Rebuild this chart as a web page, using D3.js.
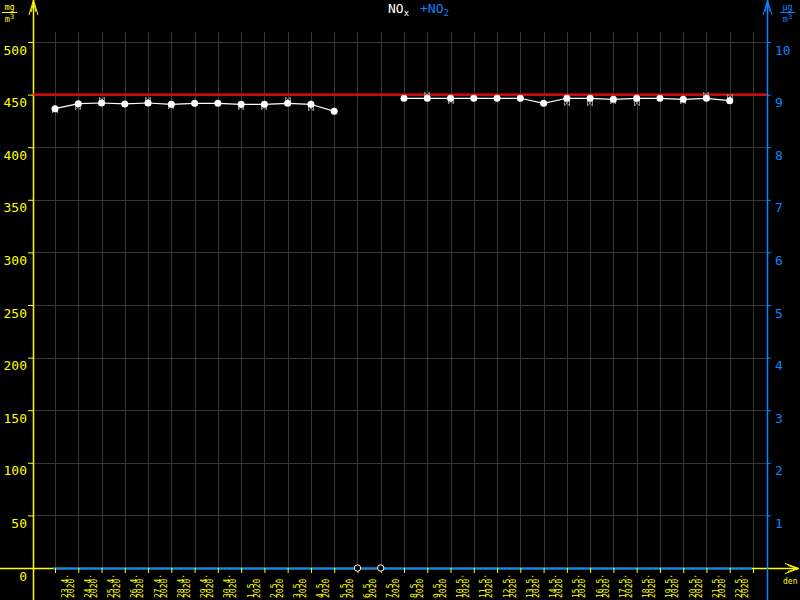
<!DOCTYPE html>
<html>
<head>
<meta charset="utf-8">
<script src="https://cdn.jsdelivr.net/npm/d3@7"></script>
<style>
  html, body { margin: 0; padding: 0; background: #000; }
  svg { display: block; }
  text { font-family: "DejaVu Sans Mono", monospace; }
</style>
</head>
<body>
<svg id="chart" width="800" height="600"></svg>
<script>
// ---- data ----
const dayLabels = ["23.4.","24.4.","25.4.","26.4.","27.4.","28.4.","29.4.","30.4.","1.5.","2.5.",
  "3.5.","4.5.","5.5.","6.5.","7.5.","8.5.","9.5.","10.5.","11.5.","12.5.",
  "13.5.","14.5.","15.5.","16.5.","17.5.","18.5.","19.5.","20.5.","21.5.","22.5."];
const yearLabel = "2020";
const noxValues = [436.6, 441.4, 442, 441.1, 442, 440.8, 441.7, 441.7, 440.8, 440.8,
  441.7, 440.8, 434.1, null, null, 446.5, 446.5, 446.5, 446.5, 446.5,
  446.5, 441.7, 446.5, 446.5, 445.5, 446.5, 446.5, 445.5, 446.5, 444.2];
// secondary grey markers (same left-axis units), null = none
const markerValues = [434.9, 438.2, 444.9, null, 445, 439, null, null, 438.2, 438.2,
  445, 437.3, null, null, null, null, 449.6, 444, null, null,
  null, null, 442.2, 442.2, 444, 442.2, null, 444, 449.6, 447.7];
const missingDays = [13, 14];
const limitValue = 450;
const leftTicks = [0, 50, 100, 150, 200, 250, 300, 350, 400, 450, 500];
const rightTicks = [1, 2, 3, 4, 5, 6, 7, 8, 9, 10];

// ---- layout ----
const YEL = "#ffff00", BLUE = "#0a84ff", GRID = "#363636";
const svg = d3.select("#chart");
svg.append("rect").attr("width", 800).attr("height", 600).attr("fill", "#000");

const y = d3.scaleLinear().domain([0, 500]).range([568, 42]);
const yR = d3.scaleLinear().domain([0, 10]).range([568, 42]);
const x = d3.scaleLinear().domain([0, 30]).range([55, 753]);
const axL = 33, axR = 767, gridTop = 32;

// grid
const grid = svg.append("g").attr("shape-rendering", "crispEdges");
grid.selectAll("line.h").data(leftTicks.filter(d => d > 0)).join("line")
  .attr("x1", axL).attr("x2", axR).attr("y1", d => Math.round(y(d)) + 0.5).attr("y2", d => Math.round(y(d)) + 0.5)
  .attr("stroke", GRID);
grid.selectAll("line.v").data(d3.range(31)).join("line")
  .attr("x1", d => Math.round(x(d)) + 0.5).attr("x2", d => Math.round(x(d)) + 0.5)
  .attr("y1", gridTop).attr("y2", 568).attr("stroke", GRID);

// left axis
const gL = svg.append("g").attr("transform", `translate(${axL},0)`)
  .call(d3.axisLeft(y).tickValues(leftTicks).tickSize(5).tickPadding(1));
gL.select(".domain").remove();
gL.selectAll(".tick line").attr("stroke", YEL);
gL.selectAll(".tick text").attr("fill", YEL).attr("dy", 12).style("font-size", "13px")
  .style("font-family", "DejaVu Sans Mono, monospace");

// right axis
const gR = svg.append("g").attr("transform", `translate(${axR},0)`)
  .call(d3.axisRight(yR).tickValues(rightTicks).tickSize(4).tickPadding(4));
gR.select(".domain").remove();
gR.selectAll(".tick line").attr("stroke", BLUE);
gR.selectAll(".tick text").attr("fill", BLUE).attr("dy", 12).style("font-size", "13px")
  .style("font-family", "DejaVu Sans Mono, monospace");

// x axis lines
svg.append("line").attr("x1", 0).attr("x2", 798).attr("y1", 568.5).attr("y2", 568.5)
  .attr("stroke", YEL).attr("stroke-width", 1.5);
svg.append("line").attr("x1", 53).attr("x2", 752).attr("y1", 568.5).attr("y2", 568.5)
  .attr("stroke", BLUE).attr("stroke-width", 2);
// x arrow
svg.append("path").attr("d", "M785,563.5 L799,568.5 L785,573.5 M788,565.5 L797,568.5 L788,571.5")
  .attr("fill", "none").attr("stroke", YEL);
svg.append("text").attr("x", 783).attr("y", 584).attr("fill", YEL)
  .style("font-size", "8px").text("den");

// bottom axis ticks
const gB = svg.append("g").attr("transform", "translate(0,568)")
  .call(d3.axisBottom(x).tickValues(d3.range(31)).tickSize(5).tickFormat(""));
gB.select(".domain").remove();
gB.selectAll(".tick line").attr("stroke", YEL);

// vertical axes
svg.append("line").attr("x1", axL + 0.5).attr("x2", axL + 0.5).attr("y1", 0).attr("y2", 600)
  .attr("stroke", YEL).attr("stroke-width", 1.5);
svg.append("path").attr("d", `M${axL - 4},15 L${axL + 0.5},0 L${axL + 5},15 M${axL - 2},12 L${axL + 0.5},3 L${axL + 3},12`)
  .attr("fill", "none").attr("stroke", YEL);
svg.append("line").attr("x1", axR + 0.5).attr("x2", axR + 0.5).attr("y1", 0).attr("y2", 600)
  .attr("stroke", BLUE).attr("stroke-width", 1.5);
svg.append("path").attr("d", `M${axR - 4},15 L${axR + 0.5},0 L${axR + 5},15 M${axR - 2},12 L${axR + 0.5},3 L${axR + 3},12`)
  .attr("fill", "none").attr("stroke", BLUE);

// x labels
const lab = svg.append("g").selectAll("g").data(dayLabels).join("g")
  .attr("transform", (d, i) => `translate(${x(i) + 12.5},598) rotate(-90)`);
lab.append("text").attr("x", 0).attr("y", 0).attr("fill", YEL).style("font-size", "8px").text(d => d);
lab.append("text").attr("x", 0).attr("y", 6).attr("fill", YEL).style("font-size", "8px").text(yearLabel);

// limit line
svg.append("line").attr("x1", axL).attr("x2", axR).attr("y1", y(limitValue)).attr("y2", y(limitValue))
  .attr("stroke", "#ff0000").attr("stroke-width", 2);

// grey markers
svg.append("g").selectAll("path").data(markerValues.map((v, i) => ({v, i})).filter(d => d.v != null))
  .join("path")
  .attr("transform", d => `translate(${Math.round(x(d.i))},${Math.round(y(d.v))})`)
  .attr("d", "M-2.5,-3 L2.5,3 M2.5,-3 L-2.5,3 M-2.5,-3 L-2.5,3 M2.5,-3 L2.5,3")
  .attr("stroke", "#8a8a8a").attr("fill", "none").attr("stroke-width", 1);

// NOx line
const line = d3.line().defined(d => d != null).x((d, i) => x(i)).y(d => y(d));
svg.append("path").datum(noxValues).attr("d", line)
  .attr("fill", "none").attr("stroke", "#fff").attr("stroke-width", 1.2);
svg.append("g").selectAll("circle").data(noxValues.map((v, i) => ({v, i})).filter(d => d.v != null))
  .join("circle").attr("cx", d => x(d.i)).attr("cy", d => y(d.v)).attr("r", 3.5).attr("fill", "#fff");

// missing markers
svg.append("g").selectAll("circle").data(missingDays).join("circle")
  .attr("cx", d => x(d)).attr("cy", y(0)).attr("r", 3.2)
  .attr("fill", "#000").attr("stroke", "#fff").attr("stroke-width", 1);

// title
const t1 = svg.append("text").attr("x", 388).attr("y", 13).attr("fill", "#fff").style("font-size", "13px");
t1.append("tspan").text("NO");
t1.append("tspan").attr("dy", 3).style("font-size", "9px").text("x");
const t2 = svg.append("text").attr("x", 420).attr("y", 13).attr("fill", BLUE).style("font-size", "13px");
t2.append("tspan").text("+NO");
t2.append("tspan").attr("dy", 3).style("font-size", "9px").text("2");

// units
function unit(cx, y0, color, txt) {
  svg.append("text").attr("x", cx).attr("y", y0 + 6).attr("text-anchor", "middle")
    .attr("fill", color).style("font-size", "8.5px").text(txt);
  svg.append("line").attr("x1", cx - 7.5).attr("x2", cx + 7.5).attr("y1", y0 + 8.5).attr("y2", y0 + 8.5)
    .attr("stroke", color);
  const u = svg.append("text").attr("x", cx).attr("y", y0 + 18).attr("text-anchor", "middle")
    .attr("fill", color).style("font-size", "8.5px");
  u.append("tspan").text("m");
  u.append("tspan").attr("dy", -3).style("font-size", "7px").text("3");
}
unit(9.5, 4, YEL, "mg");
unit(787.5, 4, BLUE, "µg");
</script>
</body>
</html>
